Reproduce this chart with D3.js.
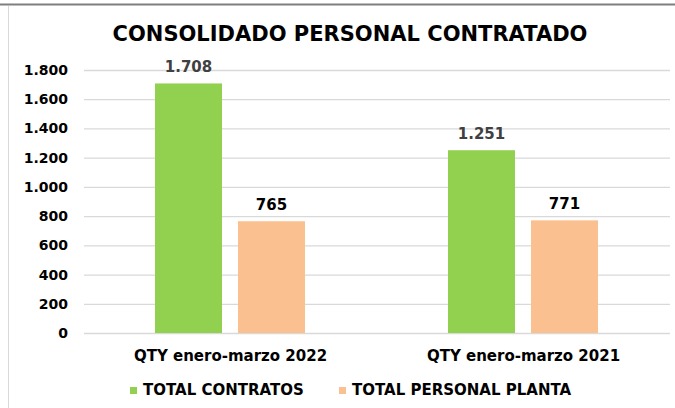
<!DOCTYPE html>
<html>
<head>
<meta charset="utf-8">
<script src="https://cdn.jsdelivr.net/npm/d3@7"></script>
<style>
  body { margin: 0; background: #fff; }
  svg { display: block; font-family: "DejaVu Sans", Verdana, sans-serif; }
</style>
</head>
<body>
<svg width="675" height="408"></svg>
<script>
var categories = ["QTY enero-marzo 2022", "QTY enero-marzo 2021"];
var seriesNames = ["TOTAL CONTRATOS", "TOTAL PERSONAL PLANTA"];
var contratos = [1708, 1251];
var planta = [765, 771];
var yTicks = [0, 200, 400, 600, 800, 1000, 1200, 1400, 1600, 1800];
var colors = ["#92d050", "#fac090"];
var labelColors = ["#404040", "#000000"];

var svg = d3.select("svg"),
    margin = {top: 70, right: 5, bottom: 75, left: 84},
    width = +svg.attr("width") - margin.left - margin.right,
    height = +svg.attr("height") - margin.top - margin.bottom;

// frame lines of the sheet
svg.append("line").attr("x1", 0).attr("x2", 675).attr("y1", 4.5).attr("y2", 4.5)
  .attr("stroke", "#7f7f7f").attr("stroke-width", 2);
svg.append("line").attr("x1", 8.5).attr("x2", 8.5).attr("y1", 6).attr("y2", 408)
  .attr("stroke", "#d9d9d9").attr("stroke-width", 1);

svg.append("text")
  .attr("x", 350).attr("y", 41)
  .attr("text-anchor", "middle")
  .attr("font-size", 21).attr("font-weight", "bold")
  .attr("fill", "#000")
  .text("CONSOLIDADO PERSONAL CONTRATADO");

var g = svg.append("g").attr("transform", "translate(" + margin.left + "," + margin.top + ")");

var x0 = d3.scaleBand().domain(categories).range([0, width]);
var x1 = d3.scaleBand().domain(seriesNames).range([71, x0.bandwidth() - 72]).paddingInner(0.193);
var y = d3.scaleLinear().domain([0, 1800]).range([height, 0]);

// gridlines
g.append("g")
  .call(d3.axisLeft(y).tickValues(yTicks).tickSize(-width).tickFormat(""))
  .call(s => s.select(".domain").remove())
  .selectAll("line").attr("stroke", "#d9d9d9").attr("stroke-width", 1.3);

// y labels
var fmt = d3.formatLocale({decimal: ",", thousands: ".", grouping: [3], currency: ["", ""]}).format(",");
g.append("g")
  .call(d3.axisLeft(y).tickValues(yTicks).tickSize(0).tickPadding(16).tickFormat(fmt))
  .call(s => s.select(".domain").remove())
  .selectAll("text")
  .attr("font-family", "DejaVu Sans, Verdana, sans-serif")
  .attr("font-size", 14).attr("font-weight", "bold").attr("fill", "#000");

var data = categories.map(function(c, i) {
  return {cat: c, vals: [contratos[i], planta[i]]};
});

var groups = g.selectAll(".grp").data(data).enter().append("g")
  .attr("transform", d => "translate(" + x0(d.cat) + ",0)");

groups.selectAll("rect").data(d => d.vals.map((v, j) => ({name: seriesNames[j], v: v, j: j})))
  .enter().append("rect")
  .attr("x", d => x1(d.name))
  .attr("width", x1.bandwidth())
  .attr("y", d => y(d.v))
  .attr("height", d => height - y(d.v))
  .attr("fill", d => colors[d.j]);

groups.selectAll(".lbl").data(d => d.vals.map((v, j) => ({name: seriesNames[j], v: v, j: j})))
  .enter().append("text")
  .attr("x", d => x1(d.name) + x1.bandwidth() / 2)
  .attr("y", d => y(d.v) - 11)
  .attr("text-anchor", "middle")
  .attr("font-size", 15).attr("font-weight", "bold")
  .attr("fill", d => labelColors[d.j])
  .text(d => fmt(d.v));

// category axis
g.append("g")
  .attr("transform", "translate(0," + height + ")")
  .call(d3.axisBottom(x0).tickSize(0).tickPadding(17))
  .call(s => s.select(".domain").remove())
  .selectAll("text")
  .attr("font-family", "DejaVu Sans, Verdana, sans-serif")
  .attr("font-size", 15).attr("font-weight", "bold").attr("fill", "#000");

// legend
var legX = [130, 339];
var leg = svg.selectAll(".leg").data(seriesNames).enter().append("g")
  .attr("transform", (d, i) => "translate(" + legX[i] + ",387)");
leg.append("rect").attr("width", 7).attr("height", 7).attr("fill", (d, i) => colors[i]);
leg.append("text").attr("x", 13).attr("y", 8)
  .attr("font-size", 15).attr("font-weight", "bold").attr("fill", "#000")
  .text(d => d);
</script>
</body>
</html>
